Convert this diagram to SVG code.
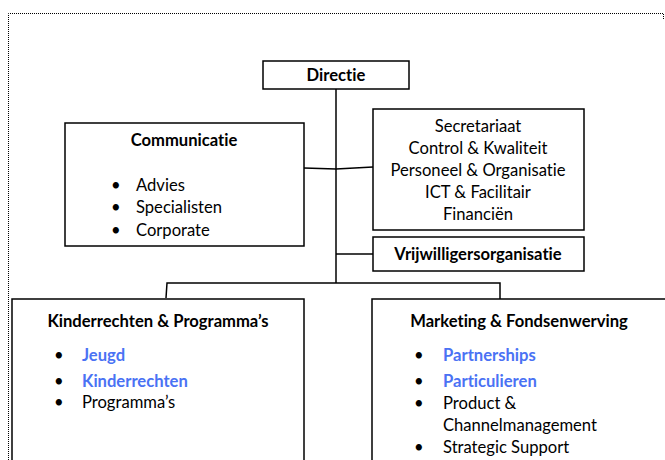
<svg xmlns="http://www.w3.org/2000/svg" width="665" height="460" viewBox="0 0 665 460">
<style>
.box{fill:#fff;stroke:#000;stroke-width:1.5}
.t{font-family:Lato,"Liberation Sans",sans-serif;font-size:16.6px;fill:#000;font-variant-ligatures:none;font-feature-settings:"liga" 0,"dlig" 0}
.b{font-weight:bold}
.c{text-anchor:middle}
.blue{fill:#4a72f4;font-weight:bold}
.ln{stroke:#000;stroke-width:1.5;fill:none}
</style>
<rect x="0" y="0" width="665" height="460" fill="#fff"/>
<path d="M8.5,460 V13.5 H663.5 V20" fill="none" stroke="#000" stroke-width="1" stroke-dasharray="1,1"/>
<g id="connectors">
<path class="ln" d="M336,89 V283"/>
<path class="ln" d="M304,168 L336,169 L373,167"/>
<path class="ln" d="M336,254 H373"/>
<path class="ln" d="M166,298 L167,283 H500 V299"/>
</g>
<g id="directie">
<rect class="box" x="263" y="61" width="146" height="28"/>
<text class="t b c" x="336" y="81">Directie</text>
</g>
<g id="communicatie">
<rect class="box" x="65" y="123" width="239" height="123"/>
<text class="t b c" x="184" y="146">Communicatie</text>
<text class="t" x="111" y="191">•</text><text class="t" x="136" y="191">Advies</text>
<text class="t" x="111" y="213">•</text><text class="t" x="136" y="213">Specialisten</text>
<text class="t" x="111" y="236">•</text><text class="t" x="136" y="236">Corporate</text>
</g>
<g id="staf">
<rect class="box" x="373" y="109" width="211" height="121"/>
<text class="t c" x="478" y="132">Secretariaat</text>
<text class="t c" x="478" y="154">Control &amp; Kwaliteit</text>
<text class="t c" x="478" y="176">Personeel &amp; Organisatie</text>
<text class="t c" x="478" y="198">ICT &amp; Facilitair</text>
<text class="t c" x="478" y="220">Financiën</text>
</g>
<g id="vrijwilligers">
<rect class="box" x="373" y="237" width="211" height="34"/>
<text class="t b c" x="478" y="260">Vrijwilligersorganisatie</text>
</g>
<g id="kinderrechten">
<rect class="box" x="12" y="299" width="292" height="170"/>
<text class="t b c" x="158" y="327">Kinderrechten &amp; Programma’s</text>
<text class="t" x="54" y="361">•</text><text class="t blue" x="82" y="361">Jeugd</text>
<text class="t" x="54" y="387">•</text><text class="t blue" x="82" y="387">Kinderrechten</text>
<text class="t" x="54" y="408">•</text><text class="t" x="82" y="408">Programma’s</text>
</g>
<g id="marketing">
<rect class="box" x="372" y="299" width="300" height="170"/>
<text class="t b c" x="519" y="327">Marketing &amp; Fondsenwerving</text>
<text class="t" x="414" y="361">•</text><text class="t blue" x="443" y="361">Partnerships</text>
<text class="t" x="414" y="387">•</text><text class="t blue" x="443" y="387">Particulieren</text>
<text class="t" x="414" y="409">•</text><text class="t" x="443" y="409">Product &amp;</text>
<text class="t" x="443" y="431">Channelmanagement</text>
<text class="t" x="414" y="453">•</text><text class="t" x="443" y="453">Strategic Support</text>
</g>
</svg>
